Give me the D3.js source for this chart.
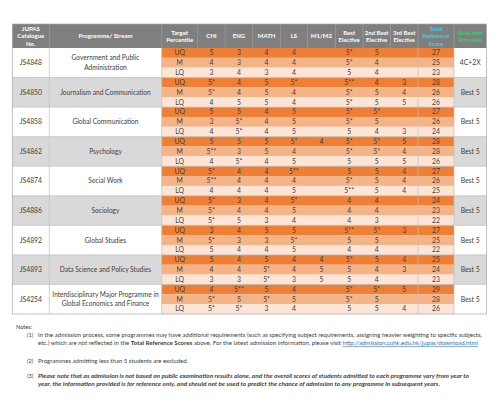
<!DOCTYPE html>
<html><head><meta charset="utf-8">
<script src="https://cdn.jsdelivr.net/npm/d3@7"></script>
<style>body{margin:0;background:#fff}svg{display:block}</style>
</head><body><svg id="c" width="499" height="407"></svg>
<script>
const catalogues = ["JS4848","JS4850","JS4858","JS4862","JS4874","JS4886","JS4892","JS4893","JS4254"];
const programmes = [["Government and Public","Administration"],["Journalism and Communication"],["Global Communication"],["Psychology"],["Social Work"],["Sociology"],["Global Studies"],["Data Science and Policy Studies"],["Interdisciplinary Major Programme in","Global Economics and Finance"]];
const selection = ["4C+2X","Best 5","Best 5","Best 5","Best 5","Best 5","Best 5","Best 5","Best 5"];
const percentiles = ["UQ","M","LQ"];
const headers = [["JUPAS","Catalogue","No."],["Programme/ Stream"],["Target","Percentile"],["CHI"],["ENG"],["MATH"],["LS"],["M1/M2"],["Best","Elective"],["2nd Best","Elective"],["3rd Best","Elective"],["Total","Reference","Score"],["Selection","Principle"]];
const chi  = ["5","4","3", "5*","5*","4", "5","3","4", "5","5**","4", "5*","5**","4", "5*","5*","5*", "3","5*","5", "5","4","3", "4","5*","5*"];
const eng  = ["3","3","4", "4","4","5", "5","5*","5*", "5","3","5*", "4","4","4", "3","4","5", "4","3","4", "4","4","3", "5**","5","5*"];
const math = ["4","4","3", "5","5","5", "4","4","4", "5","5","4", "4","4","4", "4","4","3", "5","3","4", "5","5*","5*", "5","5*","3"];
const ls   = ["4","4","4", "5*","4","4", "5","5","5", "5*","4","5", "5**","4","5", "5*","5","4", "5","5*","5", "4","4","3", "4","5","4"];
const m1m2 = ["","","", "","","", "","","", "4","","", "","","", "","","", "","","", "4","5","5", "","",""];
const best1= ["5*","5*","5", "5**","5*","5*", "5*","5*","5", "5*","5*","5", "5","5*","5**", "4","4","4", "5**","5","4", "5*","5","5", "5*","5*","5"];
const best2= ["5","4","4", "4","5","5", "5*","5","4", "5*","5*","5", "5","5","5", "4","4","3", "5*","5","4", "5","4","4", "5*","5","5"];
const best3= ["","","", "3","4","5", "","","3", "5","4","5", "4","4","4", "","","", "3","","", "4","3","", "5","","4"];
const total= ["27","25","23", "28","26","26", "27","26","24", "28","28","26", "27","26","25", "24","23","22", "27","25","22", "25","24","23", "29","28","26"];

const svg = d3.select("#c");
const font = "Lato, 'Open Sans', sans-serif";
const widths = [37, 112.4, 36, 27.5, 27.5, 27.7, 27, 28, 27.6, 27.4, 27.6, 36, 32.4];
const edges = [12.3]; widths.forEach(w => edges.push(edges[edges.length-1] + w));
const colIdx = d3.range(13);
const x0 = d3.scaleOrdinal().domain(colIdx).range(edges.slice(0,13));
const cx = i => x0(i) + widths[i]/2;
const nRows = 27;
const y = d3.scaleBand().domain(d3.range(nRows)).range([48, 314]).padding(0);
const headTop = 24, headBot = 48;
const rowFill = d3.scaleOrdinal().domain(percentiles).range(["#ee7f35","#f5b488","#fce5d6"]);
const blockFill = i => i % 2 === 1 ? "#d9d9d9" : "#ffffff";

// header
svg.append("rect").attr("x", edges[0]).attr("y", headTop).attr("width", edges[13]-edges[0]).attr("height", headBot-headTop).attr("fill", "#7f7f7f");
const hcol = i => i === 11 ? "#2fd3e8" : i === 12 ? "#2fd36f" : "#ffffff";
headers.forEach((lines, i) => {
  const lh = 7.3, mid = (headTop+headBot)/2;
  lines.forEach((t, k) => {
    svg.append("text").attr("x", cx(i)).attr("y", mid + (k - (lines.length-1)/2)*lh + 2.2)
      .attr("text-anchor","middle").attr("font-family", font).attr("font-size", 6).attr("font-weight","bold")
      .attr("fill", hcol(i)).text(t);
  });
  if (i > 0) svg.append("line").attr("x1", edges[i]).attr("x2", edges[i]).attr("y1", headTop).attr("y2", headBot).attr("stroke","#a6a6a6").attr("stroke-width",0.6);
});

// block backgrounds
catalogues.forEach((c, b) => {
  const top = y(b*3), h = y.bandwidth()*3;
  [0,1,12].forEach(ci => {
    svg.append("rect").attr("x", x0(ci)).attr("y", top).attr("width", widths[ci]).attr("height", h).attr("fill", blockFill(b));
  });
  svg.append("text").attr("x", cx(0)).attr("y", top + h/2 + 2.4).attr("text-anchor","middle")
    .attr("font-family", font).attr("font-size", 6.8).attr("fill","#404040").text(c);
  const pl = programmes[b];
  pl.forEach((t, k) => {
    svg.append("text").attr("x", cx(1)).attr("y", top + h/2 + 2.4 + (k - (pl.length-1)/2)*9.5).attr("text-anchor","middle")
      .attr("font-family", font).attr("font-size", 6.6).attr("fill","#404040").text(t);
  });
  svg.append("text").attr("x", cx(12)).attr("y", top + h/2 + 2.4).attr("text-anchor","middle")
    .attr("font-family", font).attr("font-size", 6.8).attr("fill","#404040").text(selection[b]);
});

// rows
const cols = [chi, eng, math, ls, m1m2, best1, best2, best3, total];
d3.range(nRows).forEach(r => {
  const p = percentiles[r % 3];
  svg.append("rect").attr("x", x0(2)).attr("y", y(r)).attr("width", edges[12]-edges[2]).attr("height", y.bandwidth()).attr("fill", rowFill(p));
  svg.append("text").attr("x", cx(2)).attr("y", y(r) + y.bandwidth()/2 + 2.4).attr("text-anchor","middle")
    .attr("font-family", font).attr("font-size", 6.8).attr("fill","#404040").text(p);
  cols.forEach((arr, k) => {
    const ci = k + 3;
    if (arr[r]) svg.append("text").attr("x", cx(ci)).attr("y", y(r) + y.bandwidth()/2 + 2.4).attr("text-anchor","middle")
      .attr("font-family", font).attr("font-size", 6.8).attr("fill","#404040").text(arr[r]);
  });
});

// grid lines
[1, 2, 11, 12].forEach(ci => svg.append("line").attr("x1", edges[ci]).attr("x2", edges[ci]).attr("y1", headBot).attr("y2", 314).attr("stroke","#bfbfbf").attr("stroke-width",0.7));
catalogues.forEach((c, b) => {
  if (b > 0) svg.append("line").attr("x1", edges[0]).attr("x2", edges[13]).attr("y1", y(b*3)).attr("y2", y(b*3)).attr("stroke","#bfbfbf").attr("stroke-width",0.7);
});
svg.append("rect").attr("x", edges[0]).attr("y", headTop).attr("width", edges[13]-edges[0]).attr("height", 314-headTop).attr("fill","none").attr("stroke","#a6a6a6").attr("stroke-width",0.7);

// notes
const nf = 5.6, nc = "#404040";
const note = (xx, yy, opts={}) => {
  const t = svg.append("text").attr("x", xx).attr("y", yy).attr("font-family", font).attr("font-size", nf).attr("fill", nc);
  if (opts.len) t.attr("textLength", opts.len).attr("lengthAdjust","spacingAndGlyphs");
  if (opts.bi) t.attr("font-weight","bold").attr("font-style","italic");
  return t;
};
note(16, 329).text("Notes:");
note(27, 337).text("(1)");
note(38, 337, {len: 444}).text("In the admission process, some programmes may have additional requirements (such as specifying subject requirements, assigning heavier weighting to specific subjects,");
const l2 = note(38, 345, {len: 440});
l2.append("tspan").text("etc.) which are not reflected in the ");
l2.append("tspan").attr("font-weight","bold").text("Total Reference Scores");
l2.append("tspan").text(" above. For the latest admission information, please visit ");
l2.append("tspan").attr("fill","#2e74b5").attr("text-decoration","underline").text("http://admission.cuhk.edu.hk/jupas/download.html");
note(27, 363).text("(2)");
note(38, 363, {len: 150}).text("Programmes admitting less than 5 students are excluded.");
note(27, 378).text("(3)");
note(38, 378, {len: 431, bi: true}).text("Please note that as admission is not based on public examination results alone, and the overall scores of students admitted to each programme vary from year to");
note(38, 386, {len: 402, bi: true}).text("year, the information provided is for reference only, and should not be used to predict the chance of admission to any programme in subsequent years.");
</script></body></html>
